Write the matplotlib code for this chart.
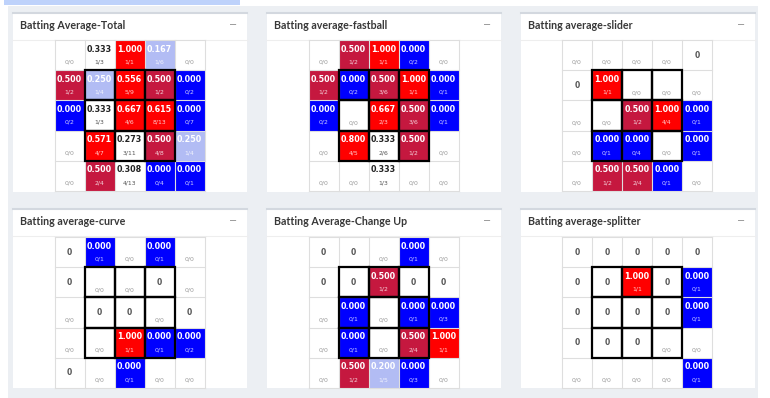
import numpy as np
import matplotlib
matplotlib.use("Agg")
import matplotlib.pyplot as plt
from matplotlib.colors import ListedColormap, BoundaryNorm
from matplotlib.patches import Rectangle

titles = ["Batting Average-Total", "Batting average-fastball", "Batting average-slider",
          "Batting average-curve", "Batting Average-Change Up", "Batting average-splitter"]

# each cell: "hits/at-bats", "0/0" (no at-bats), or "0"
total = [["0/0", "1/3", "1/1", "1/6", "0/0"],
         ["1/2", "1/4", "5/9", "1/2", "0/2"],
         ["0/2", "1/3", "4/6", "8/13", "0/7"],
         ["0/0", "4/7", "3/11", "4/8", "1/4"],
         ["0/0", "2/4", "4/13", "0/4", "0/1"]]
fastball = [["0/0", "1/2", "1/1", "0/2", "0/0"],
            ["1/2", "0/2", "3/6", "1/1", "0/1"],
            ["0/2", "0/0", "2/3", "3/6", "0/1"],
            ["0/0", "4/5", "2/6", "1/2", "0/0"],
            ["0/0", "0/0", "1/3", "0/0", "0/0"]]
slider = [["0/0", "0/0", "0/0", "0/0", "0"],
          ["0", "1/1", "0/0", "0/0", "0/0"],
          ["0/0", "0/0", "1/2", "4/4", "0/1"],
          ["0/0", "0/1", "0/4", "0/0", "0/1"],
          ["0/0", "1/2", "2/4", "0/1", "0/0"]]
curve = [["0", "0/1", "0/0", "0/1", "0/0"],
         ["0", "0/0", "0/0", "0", "0/0"],
         ["0/0", "0", "0", "0/0", "0"],
         ["0/0", "0/0", "1/1", "0/1", "0/2"],
         ["0", "0/0", "0/1", "0/0", "0/0"]]
changeup = [["0", "0", "0/0", "0/1", "0/0"],
            ["0", "0", "1/2", "0", "0"],
            ["0/0", "0/1", "0/0", "0/1", "0/3"],
            ["0/0", "0/1", "0/0", "2/4", "1/1"],
            ["0/0", "1/2", "1/5", "0/3", "0/0"]]
splitter = [["0", "0", "0", "0", "0"],
            ["0", "0", "1/1", "0", "0/1"],
            ["0", "0", "0", "0", "0/1"],
            ["0", "0", "0", "0/0", "0/0"],
            ["0/0", "0/0", "0/0", "0/0", "0/1"]]
panels = [total, fastball, slider, curve, changeup, splitter]

bin_edges = [-0.01, 0.1, 0.26, 0.35, 0.52, 1.01]
bin_colors = ["#0000ff", "#b2bcf4", "#ffffff", "#c5183f", "#ff0000"]
cmap = ListedColormap(bin_colors)
cmap.set_bad("white")
norm = BoundaryNorm(bin_edges, cmap.N)

W, H = 770, 398
fig = plt.figure(figsize=(W / 100, H / 100), dpi=100)
fig.patch.set_facecolor("white")
bg = fig.add_axes([0, 0, 1, 1])
bg.set_xlim(0, W)
bg.set_ylim(H, 0)
bg.axis("off")
bg.add_patch(Rectangle((8, 6), 750, 392, color="#eceff3", lw=0))
bg.add_patch(Rectangle((4, 0), 236, 5, color="#bed2fb", lw=0))

card_x = [13, 267, 521]
card_y = [12, 208]
card_w, card_h = 234, 180
grid_x = [54.5, 308.5, 562]
grid_y = [40, 237]
gw, gh = 150, 151

title_font = "Lato"
num_font = "DejaVu Sans"

for k, (title, data) in enumerate(zip(titles, panels)):
    col, row = k % 3, k // 3
    cx, cy = card_x[col], card_y[row]
    bg.add_patch(Rectangle((cx, cy), card_w, card_h, facecolor="white", edgecolor="none"))
    bg.plot([cx, cx + card_w], [cy + 0.5, cy + 0.5], color="#d3d8df", lw=1.5)
    bg.plot([cx, cx + card_w], [cy + 27.5, cy + 27.5], color="#eeeeee", lw=0.8)
    bg.text(cx + 7, cy + 13.5, title, fontsize=7.7, fontweight="bold", family=title_font,
            color="#383838", va="center", ha="left")
    bg.text(cx + 220, cy + 13, "−", fontsize=7, color="#8a8a8a", va="center", ha="center")

    gx, gy = grid_x[col], grid_y[row]
    ax = fig.add_axes([gx / W, 1 - (gy + gh) / H, gw / W, gh / H])
    vals = np.full((5, 5), np.nan)
    for r in range(5):
        for c in range(5):
            s = data[r][c]
            if "/" in s:
                h, ab = map(int, s.split("/"))
                if ab > 0:
                    vals[r, c] = h / ab
    ax.imshow(np.ma.masked_invalid(vals), cmap=cmap, norm=norm, extent=(0, 5, 5, 0),
              aspect="auto", interpolation="nearest")
    ax.set_xlim(0, 5)
    ax.set_ylim(5, 0)
    ax.axis("off")
    for i in range(6):
        ax.plot([0, 5], [i, i], color="#dedede", lw=0.8, clip_on=False, zorder=2)
        ax.plot([i, i], [0, 5], color="#dedede", lw=0.8, clip_on=False, zorder=2)
    for r in range(1, 4):
        for c in range(1, 4):
            ax.add_patch(Rectangle((c, r), 1, 1, fill=False, lw=1.6, ec="black", zorder=4))

    for r in range(5):
        for c in range(5):
            s = data[r][c]
            v = vals[r, c]
            if s == "0":
                ax.text(c + 0.5, r + 0.5, "0", ha="center", va="center", fontsize=5.5,
                        fontweight="bold", color="#555555", family=num_font, zorder=5)
            elif np.isnan(v):
                ax.text(c + 0.5, r + 0.74, s, ha="center", va="center", fontsize=4.4,
                        color="#9a9a9a", family=num_font, zorder=5)
            else:
                if 0.26 <= v < 0.35:
                    vc, fc, fa = "#222222", "#555555", 1.0
                else:
                    vc, fc, fa = "white", "white", 0.8
                ax.text(c + 0.5, r + 0.3, f"{v:.3f}", ha="center", va="center", fontsize=5.8,
                        fontweight="bold", color=vc, family=num_font, zorder=5)
                ax.text(c + 0.5, r + 0.73, s, ha="center", va="center", fontsize=4.4,
                        color=fc, alpha=fa, family=num_font, zorder=5)

fig.savefig("out.png", dpi=100)
